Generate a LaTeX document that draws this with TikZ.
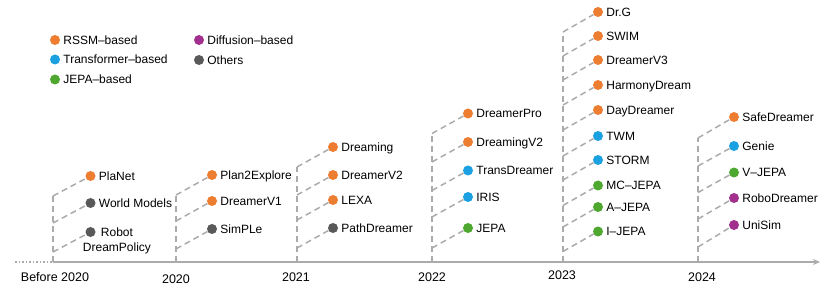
\documentclass[tikz,border=0pt]{standalone}
\usepackage{fontspec}
\setmainfont{Liberation Sans}
\usetikzlibrary{arrows.meta, positioning}
\definecolor{rssmorange}{HTML}{ED7D31}
\definecolor{transblue}{HTML}{1BA1E2}
\definecolor{jepagreen}{HTML}{4EA72E}
\definecolor{diffpurple}{HTML}{A2308E}
\definecolor{othergray}{HTML}{595959}
\definecolor{linegray}{HTML}{ABABAB}
\newcommand{\lblfont}{\fontsize{12}{15}\selectfont}
\newcommand{\yearfont}{\fontsize{12.5}{15}\selectfont}
\tikzset{
    mdot/.style={circle, inner sep=0pt, minimum size=10pt},
    rssm/.style={mdot, fill=rssmorange},
    trans/.style={mdot, fill=transblue},
    jepa/.style={mdot, fill=jepagreen},
    diff/.style={mdot, fill=diffpurple},
    other/.style={mdot, fill=othergray},
    lbl/.style={font=\lblfont, inner sep=2pt, text height=11pt, text depth=2.4pt},
    every label/.style={lbl},
    year/.style={font=\yearfont, inner sep=0pt},
    branch/.style={draw=linegray, line width=1.5pt, dash pattern=on 6pt off 4pt},
    timeaxis/.style={draw=linegray, line width=2pt, -{Stealth[length=7pt, width=6pt]}}
}

\begin{document}
\begin{tikzpicture}[x=1pt, y=-1pt, label distance=1pt]
        \useasboundingbox (0,0) rectangle (822,291);

        % legend
        \node[rssm, label=right:RSSM--based] (legrssm) at (55,40) {};
        \node[trans, label=right:Transformer--based] (legtrans) at (55,59.5) {};
        \node[jepa, label=right:JEPA--based] (legjepa) at (55,79.5) {};
        \node[diff, label=right:Diffusion--based] (legdiff) at (199,40) {};
        \node[other, label=right:Others] (legother) at (199,60) {};

        % time axis
        \coordinate (axstart) at (15,262);
        \coordinate (t19) at (53,262);
        \coordinate (t20) at (176,262);
        \coordinate (t21) at (297,262);
        \coordinate (t22) at (432,262);
        \coordinate (t23) at (563,262);
        \coordinate (t24) at (698,262);
        \coordinate (axend) at (820,262);
        \draw[linegray, line width=1.5pt, dotted] (axstart) -- (t19);
        \draw[timeaxis] (t19) -- (axend);

        \node[year] (lbefore) at (55,277) {Before 2020};
        \node[year] (l2020) at (176,279) {2020};
        \node[year] (l2021) at (296,277) {2021};
        \node[year] (l2022) at (432,277) {2022};
        \node[year] (l2023) at (562,275) {2023};
        \node[year] (l2024) at (702,277) {2024};

        % before 2020
        \node[rssm, label=right:PlaNet] (planet) at (90.5,176) {};
        \node[other, label=right:World Models] (worldmodels) at (90.5,203) {};
        \node[other] (robot) at (90.5,232) {};
        \node[lbl, align=center, text height=, text depth=, inner sep=0pt] (robotlbl) at (117,240.5) {Robot\\DreamPolicy};
        \coordinate (planet-b) at (53,196);
        \coordinate (worldmodels-b) at (53,223);
        \coordinate (robot-b) at (53,252);
        \draw[branch] (t19) -- (planet-b);
        \draw[branch] (planet-b) -- (planet);
        \draw[branch] (worldmodels-b) -- (worldmodels);
        \draw[branch] (robot-b) -- (robot);

        % 2020
        \node[rssm, label=right:Plan2Explore] (plan2explore) at (212,175) {};
        \node[rssm, label=right:DreamerV1] (dreamerv1) at (212,201) {};
        \node[other, label=right:SimPLe] (simple) at (212,229) {};
        \coordinate (plan2explore-b) at (176,195);
        \coordinate (dreamerv1-b) at (176,221);
        \coordinate (simple-b) at (176,249);
        \draw[branch] (t20) -- (plan2explore-b);
        \draw[branch] (plan2explore-b) -- (plan2explore);
        \draw[branch] (dreamerv1-b) -- (dreamerv1);
        \draw[branch] (simple-b) -- (simple);

        % 2021
        \node[rssm, label=right:Dreaming] (dreaming) at (333,147) {};
        \node[rssm, label=right:DreamerV2] (dreamerv2) at (333,175) {};
        \node[rssm, label=right:LEXA] (lexa) at (333,200) {};
        \node[other, label=right:PathDreamer] (pathdreamer) at (333,228) {};
        \coordinate (dreaming-b) at (297,167);
        \coordinate (dreamerv2-b) at (297,195);
        \coordinate (lexa-b) at (297,220);
        \coordinate (pathdreamer-b) at (297,248);
        \draw[branch] (t21) -- (dreaming-b);
        \draw[branch] (dreaming-b) -- (dreaming);
        \draw[branch] (dreamerv2-b) -- (dreamerv2);
        \draw[branch] (lexa-b) -- (lexa);
        \draw[branch] (pathdreamer-b) -- (pathdreamer);

        % 2022
        \node[rssm, label=right:DreamerPro] (dreamerpro) at (468,113.5) {};
        \node[rssm, label=right:DreamingV2] (dreamingv2) at (468,142) {};
        \node[trans, label=right:TransDreamer] (transdreamer) at (468,170.5) {};
        \node[trans, label=right:IRIS] (iris) at (468,197) {};
        \node[jepa, label=right:JEPA] (jepa) at (468,228) {};
        \coordinate (dreamerpro-b) at (432,133.5);
        \coordinate (dreamingv2-b) at (432,162);
        \coordinate (transdreamer-b) at (432,190.5);
        \coordinate (iris-b) at (432,217);
        \coordinate (jepa-b) at (432,248);
        \draw[branch] (t22) -- (dreamerpro-b);
        \draw[branch] (dreamerpro-b) -- (dreamerpro);
        \draw[branch] (dreamingv2-b) -- (dreamingv2);
        \draw[branch] (transdreamer-b) -- (transdreamer);
        \draw[branch] (iris-b) -- (iris);
        \draw[branch] (jepa-b) -- (jepa);

        % 2023
        \node[rssm, label=right:Dr.G] (drg) at (598,12) {};
        \node[rssm, label=right:SWIM] (swim) at (598,36) {};
        \node[rssm, label=right:DreamerV3] (dreamerv3) at (598,60) {};
        \node[rssm, label=right:HarmonyDream] (harmonydream) at (598,85) {};
        \node[rssm, label=right:DayDreamer] (daydreamer) at (598,110) {};
        \node[trans, label=right:TWM] (twm) at (598,136) {};
        \node[trans, label=right:STORM] (storm) at (598,160) {};
        \node[jepa, label=right:MC--JEPA] (mcjepa) at (598,185.5) {};
        \node[jepa, label=right:A--JEPA] (ajepa) at (598,207) {};
        \node[jepa, label=right:I--JEPA] (ijepa) at (598,231.5) {};
        \coordinate (drg-b) at (563,32);
        \coordinate (swim-b) at (563,56);
        \coordinate (dreamerv3-b) at (563,80);
        \coordinate (harmonydream-b) at (563,105);
        \coordinate (daydreamer-b) at (563,130);
        \coordinate (twm-b) at (563,156);
        \coordinate (storm-b) at (563,180);
        \coordinate (mcjepa-b) at (563,205.5);
        \coordinate (ajepa-b) at (563,227);
        \coordinate (ijepa-b) at (563,251.5);
        \draw[branch] (t23) -- (drg-b);
        \draw[branch] (drg-b) -- (drg);
        \draw[branch] (swim-b) -- (swim);
        \draw[branch] (dreamerv3-b) -- (dreamerv3);
        \draw[branch] (harmonydream-b) -- (harmonydream);
        \draw[branch] (daydreamer-b) -- (daydreamer);
        \draw[branch] (twm-b) -- (twm);
        \draw[branch] (storm-b) -- (storm);
        \draw[branch] (mcjepa-b) -- (mcjepa);
        \draw[branch] (ajepa-b) -- (ajepa);
        \draw[branch] (ijepa-b) -- (ijepa);

        % 2024
        \node[rssm, label=right:SafeDreamer] (safedreamer) at (734,117) {};
        \node[trans, label=right:Genie] (genie) at (734,146) {};
        \node[jepa, label=right:V--JEPA] (vjepa) at (734,172.5) {};
        \node[diff, label=right:RoboDreamer] (robodreamer) at (734,198) {};
        \node[diff, label=right:UniSim] (unisim) at (734,225) {};
        \coordinate (safedreamer-b) at (698,138);
        \coordinate (genie-b) at (698,166);
        \coordinate (vjepa-b) at (698,192.5);
        \coordinate (robodreamer-b) at (698,219);
        \coordinate (unisim-b) at (698,247);
        \draw[branch] (t24) -- (safedreamer-b);
        \draw[branch] (safedreamer-b) -- (safedreamer);
        \draw[branch] (genie-b) -- (genie);
        \draw[branch] (vjepa-b) -- (vjepa);
        \draw[branch] (robodreamer-b) -- (robodreamer);
        \draw[branch] (unisim-b) -- (unisim);
    \end{tikzpicture}
\end{document}
